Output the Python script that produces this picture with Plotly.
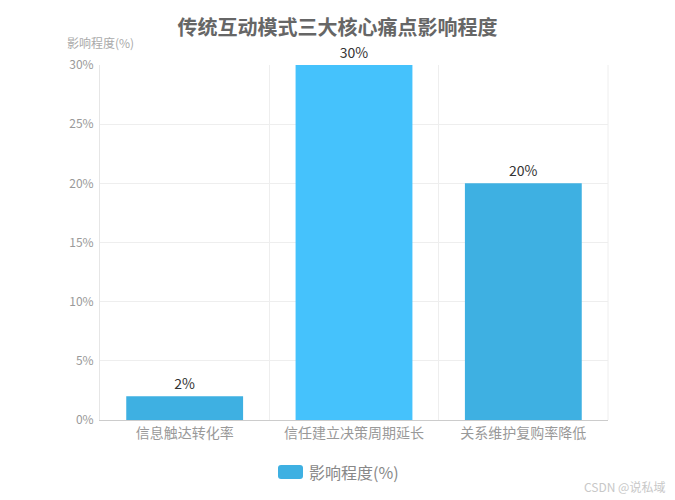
import plotly.graph_objects as go

# ── Data ──────────────────────────────────────────────────────────────────────
categories = ["信息触达转化率", "信任建立决策周期延长", "关系维护复购率降低"]
impact_pct = [2, 30, 20]
bar_colors = ["#3EB0E2", "#45C2FC", "#3EB0E2"]
y_ticks = [0, 5, 10, 15, 20, 25, 30]
y_tick_labels = [f"{v}%" for v in y_ticks]

FONT = "Microsoft YaHei, Noto Sans CJK SC, sans-serif"

# page body has an 8px default margin, so the figure is a little smaller
W, H = 667, 492
L, T, R, B = 92, 57, 67, 80
PW, PH = W - L - R, H - T - B


def px_x(x):  # viewport pixel -> paper x
    return (x - 8 - L) / PW


def px_y(y):  # viewport pixel -> paper y
    return (H - B - (y - 8)) / PH


fig = go.Figure(go.Bar(
    x=categories,
    y=impact_pct,
    name="影响程度(%)",
    marker=dict(color=bar_colors, line=dict(width=0)),
    width=0.69,
    text=[f"{v}%" for v in impact_pct],
    textposition="outside",
    textfont=dict(size=14, color="#333333", family=FONT),
    cliponaxis=False,
    showlegend=False,
))

fig.update_layout(
    width=W, height=H,
    paper_bgcolor="white", plot_bgcolor="white",
    margin=dict(l=L, r=R, t=T, b=B),
    font=dict(family=FONT),
    title=dict(text="<b>传统互动模式三大核心痛点影响程度</b>",
               xref="paper", x=px_x(337.5), xanchor="center",
               yref="container", y=1 - 20 / H, yanchor="middle",
               font=dict(size=20, color="#666666", family=FONT)),
    xaxis=dict(
        type="category", tickson="boundaries", showgrid=True, gridcolor="#EEEEEE",
        showline=True, linecolor="#CCCCCC", ticks="outside", ticklen=5,
        tickcolor="rgba(0,0,0,0)",
        tickfont=dict(size=14, color="#999999"),
    ),
    yaxis=dict(
        range=[0, 30], tickvals=y_ticks, ticktext=y_tick_labels,
        showgrid=True, gridcolor="#EEEEEE", zeroline=False,
        showline=True, linecolor="#E6E6E6",
        ticks="outside", ticklen=3, tickcolor="rgba(0,0,0,0)",
        tickfont=dict(size=12, color="#999999"),
    ),
)

# right border grid line
fig.add_shape(type="line", xref="paper", yref="paper", x0=1, x1=1, y0=0, y1=1,
              line=dict(color="#EEEEEE", width=1))

# y axis name
fig.add_annotation(text="影响程度(%)", xref="paper", yref="paper", x=0, y=px_y(42),
                   xanchor="center", yanchor="middle", showarrow=False,
                   font=dict(size=12, color="#AAAAAA"))

# legend (rounded swatch + label)
x0, x1 = px_x(278), px_x(303)
y0, y1 = px_y(479), px_y(465)
rx, ry = 3 / PW, 3 / PH
fig.add_shape(type="path", xref="paper", yref="paper",
              path=(f"M {x0+rx} {y1} L {x1-rx} {y1} Q {x1} {y1} {x1} {y1-ry} "
                    f"L {x1} {y0+ry} Q {x1} {y0} {x1-rx} {y0} L {x0+rx} {y0} "
                    f"Q {x0} {y0} {x0} {y0+ry} L {x0} {y1-ry} Q {x0} {y1} {x0+rx} {y1} Z"),
              fillcolor="#3EB0E2", line=dict(width=0))
fig.add_annotation(text="影响程度(%)", xref="paper", yref="paper", x=px_x(307),
                   y=px_y(472), xanchor="left", yanchor="middle", showarrow=False,
                   font=dict(size=16, color="#888888"))

# watermark
fig.add_annotation(text="CSDN @说私域", xref="paper", yref="paper", x=px_x(667),
                   y=px_y(486), xanchor="right", yanchor="middle", showarrow=False,
                   font=dict(size=12, color="#C8C8C8"))

fig.write_html("out.html")
